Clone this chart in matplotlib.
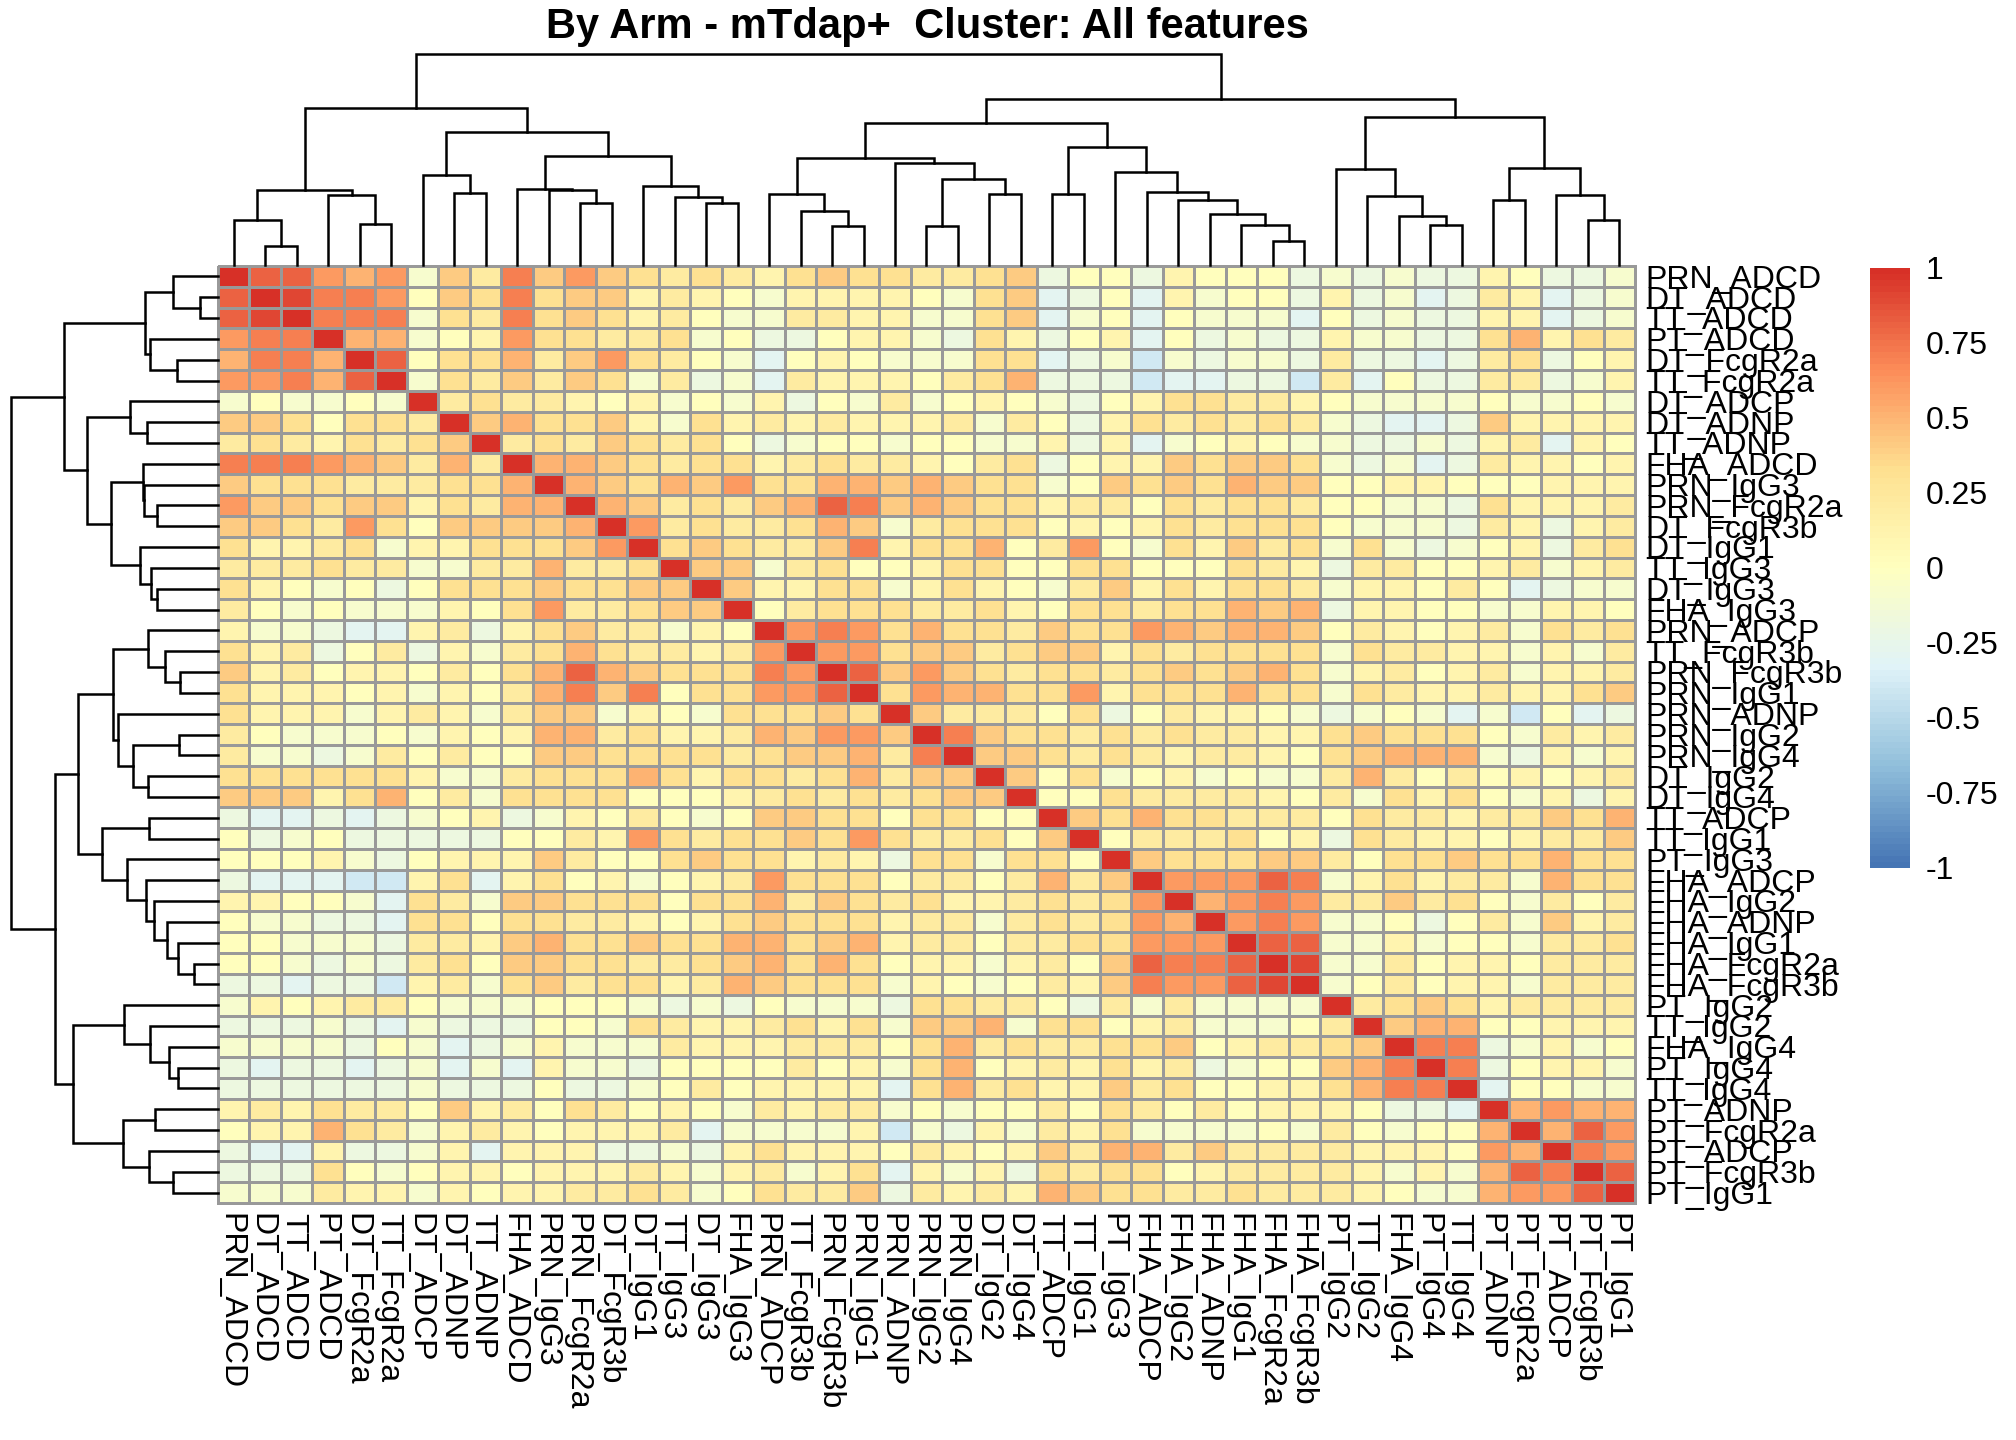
import numpy as np
import matplotlib
matplotlib.use("Agg")
import matplotlib.pyplot as plt
from matplotlib.colors import LinearSegmentedColormap, ListedColormap
from matplotlib import transforms

plt.rcParams['font.family'] = ['Liberation Sans', 'DejaVu Sans']

# features in the clustered order (rows and columns are the same)
features = ["PRN_ADCD", "DT_ADCD", "TT_ADCD", "PT_ADCD", "DT_FcgR2a", "TT_FcgR2a",
            "DT_ADCP", "DT_ADNP", "TT_ADNP", "FHA_ADCD", "PRN_IgG3", "PRN_FcgR2a",
            "DT_FcgR3b", "DT_IgG1", "TT_IgG3", "DT_IgG3", "FHA_IgG3", "PRN_ADCP",
            "TT_FcgR3b", "PRN_FcgR3b", "PRN_IgG1", "PRN_ADNP", "PRN_IgG2", "PRN_IgG4",
            "DT_IgG2", "DT_IgG4", "TT_ADCP", "TT_IgG1", "PT_IgG3", "FHA_ADCP",
            "FHA_IgG2", "FHA_ADNP", "FHA_IgG1", "FHA_FcgR2a", "FHA_FcgR3b", "PT_IgG2",
            "TT_IgG2", "FHA_IgG4", "PT_IgG4", "TT_IgG4", "PT_ADNP", "PT_FcgR2a",
            "PT_ADCP", "PT_FcgR3b", "PT_IgG1"]

# upper triangle of the correlation matrix (in tenths), each row starts at the diagonal
corr_upper = [
    "10 8 8 6 5 6 -1 4 2 7 4 6 4 3 2 3 2 1 3 4 3 3 2 2 3 4 -2 0 0 -2 1 0 0 0 -2 -1 -2 -1 -2 -2 1 0 -2 -2 -1",
    "10 9 7 7 6 0 4 3 7 3 4 4 1 2 1 0 -1 1 1 1 1 0 -1 3 4 -3 -2 0 -3 1 -1 0 0 -2 1 -2 -1 -3 -2 2 1 -3 -2 -1",
    "10 7 7 7 -1 3 2 7 3 4 3 1 2 0 -1 -1 2 2 1 1 -1 -1 3 4 -3 -1 0 -3 0 -1 -1 -1 -3 0 -2 -1 -2 -2 1 1 -3 -2 -1",
    "10 5 5 -1 0 1 6 3 3 2 2 3 -1 0 -2 -2 0 1 1 -1 -2 3 1 -2 0 1 -3 0 -2 -1 -2 -2 1 -1 -1 -2 -2 3 5 1 3 2",
    "10 8 0 3 3 5 2 4 6 3 2 0 -1 -3 0 1 0 -1 -1 -1 3 3 -3 -2 -1 -4 -1 -2 -1 -1 -2 2 -2 -2 -3 -2 2 3 -2 0 1",
    "10 -1 3 2 4 2 4 3 -1 2 -2 -1 -3 2 1 1 1 0 2 3 5 -2 -2 -2 -4 -3 -3 -2 -2 -4 2 -3 0 -2 -2 2 2 -2 -1 1",
    "10 2 3 2 2 1 0 1 -1 0 -1 1 -2 0 -1 2 -1 0 1 0 -1 -2 0 1 3 3 2 2 1 0 -1 -1 -1 -1 0 -1 -1 0 -1",
    "10 4 5 3 3 4 1 -1 3 1 2 1 2 1 1 1 2 -1 2 0 -2 1 3 2 3 2 3 2 -1 -2 -3 -3 -2 4 1 1 1 1",
    "10 2 3 2 4 3 2 3 0 -2 -1 0 0 -1 0 0 -1 -1 1 -2 1 -3 -1 0 1 0 -1 -1 -2 -2 -1 -2 1 2 -3 1 0",
    "10 5 5 4 3 2 3 3 1 2 3 2 2 1 0 2 3 -2 0 1 1 4 3 4 4 3 -1 -2 -1 -3 -2 2 1 1 0 1",
    "10 5 4 3 5 4 6 3 3 5 5 4 5 4 3 3 -1 0 4 3 4 3 5 4 4 0 0 1 1 0 0 0 1 1 1",
    "10 5 4 2 3 2 4 5 8 7 4 5 4 3 3 1 2 2 0 3 2 3 3 2 0 0 -1 -1 -2 3 1 1 1 2",
    "10 6 2 3 2 2 3 5 4 -1 2 3 3 3 0 1 0 1 3 2 3 3 3 0 -1 -1 -1 -2 2 1 -2 1 2",
    "10 3 4 3 2 2 4 7 1 3 3 5 0 2 6 0 -1 3 1 4 2 3 -1 3 -1 -2 -1 0 1 -2 2 3",
    "10 4 4 -1 2 3 0 0 1 3 3 0 0 3 3 0 0 0 3 2 1 -2 2 2 0 0 1 2 -1 1 2",
    "10 4 1 1 3 3 -1 1 3 1 0 -1 2 4 1 3 1 3 3 2 -1 1 1 0 2 0 -3 -2 -1 -1",
    "10 0 2 3 3 3 2 2 3 1 0 3 3 2 3 3 5 4 5 -2 1 1 0 0 -1 -1 1 1 0",
    "10 6 7 6 3 5 3 3 2 4 3 3 6 5 4 5 5 4 0 2 1 0 1 2 -1 3 2 3",
    "10 6 6 3 4 4 2 3 4 4 1 3 2 3 3 3 3 -1 3 2 2 1 1 -1 1 -1 2",
    "10 8 4 6 4 3 2 3 3 2 3 4 3 4 5 3 -1 1 2 0 1 2 -1 1 1 2",
    "10 3 6 5 5 3 3 6 1 3 3 3 5 3 3 -1 3 2 1 1 2 1 1 3 4",
    "10 4 2 2 2 0 3 -2 0 2 1 1 0 -1 -2 -1 0 -1 -3 -1 -4 0 -3 -2",
    "10 7 4 3 3 2 3 2 3 2 2 1 1 3 4 3 3 3 0 -1 2 1 2",
    "10 4 4 3 2 3 2 1 2 2 1 0 3 4 5 5 5 -1 -2 1 -1 1",
    "10 4 0 3 -1 0 1 -1 0 -1 -1 2 5 2 0 2 0 1 0 1 2",
    "10 0 0 3 2 2 2 2 1 0 2 -1 3 1 3 0 -1 1 -2 1",
    "10 4 3 5 3 3 2 2 2 0 3 2 2 1 2 2 4 3 5",
    "10 0 2 2 2 3 0 1 -2 3 2 1 1 0 1 2 2 4",
    "10 4 3 3 3 4 4 2 0 3 3 4 3 3 5 3 3",
    "10 6 6 6 8 7 -1 1 3 1 2 2 -1 5 3 3",
    "10 5 6 7 6 2 2 4 2 3 0 -1 2 0 2",
    "10 6 7 6 -1 -1 0 -2 0 2 -1 4 1 2",
    "10 8 8 -1 -1 1 -1 0 0 -1 2 2 3",
    "10 9 -1 -1 2 0 1 1 0 2 2 2",
    "10 -1 0 2 0 1 1 -1 2 2 2",
    "10 2 3 4 3 1 2 2 2 2",
    "10 4 5 5 0 0 1 1 1",
    "10 7 7 -2 -1 1 -1 0",
    "10 7 -2 0 1 1 -1",
    "10 -3 0 0 -1 -1",
    "10 5 6 5 5",
    "10 5 8 6",
    "10 7 6",
    "10 8",
    "10",
]

# hierarchical clustering: (left, right, height); ints refer to earlier merges
merges = [
    ("DT_ADCD", "TT_ADCD", 0.55), ("PRN_ADCD", 0, 1.35), ("DT_FcgR2a", "TT_FcgR2a", 1.23),
    ("PT_ADCD", 2, 2.07), (1, 3, 2.22), ("DT_ADNP", "TT_ADNP", 2.15),
    ("DT_ADCP", 5, 2.67), ("PRN_FcgR2a", "DT_FcgR3b", 1.85), ("PRN_IgG3", 7, 2.23),
    ("FHA_ADCD", 8, 2.27), ("DT_IgG3", "FHA_IgG3", 1.83), ("TT_IgG3", 10, 2.03),
    ("DT_IgG1", 11, 2.35), (9, 12, 3.23), (6, 13, 3.95),
    (4, 14, 4.67), ("PRN_FcgR3b", "PRN_IgG1", 1.15), ("TT_FcgR3b", 16, 1.60),
    ("PRN_ADCP", 17, 2.12), ("PRN_IgG2", "PRN_IgG4", 1.17), ("DT_IgG2", "DT_IgG4", 2.12),
    (19, 20, 2.57), ("PRN_ADNP", 21, 3.03), (18, 22, 3.18),
    ("TT_ADCP", "TT_IgG1", 2.10), ("FHA_FcgR2a", "FHA_FcgR3b", 0.72), ("FHA_IgG1", 25, 1.20),
    ("FHA_ADNP", 26, 1.53), ("FHA_IgG2", 27, 1.94), ("FHA_ADCP", 28, 2.18),
    ("PT_IgG3", 29, 2.75), (24, 30, 3.51), (23, 31, 4.22),
    ("PT_IgG4", "TT_IgG4", 1.20), ("FHA_IgG4", 33, 1.47), ("TT_IgG2", 34, 2.05),
    ("PT_IgG2", 35, 2.85), ("PT_FcgR3b", "PT_IgG1", 1.35), ("PT_ADCP", 37, 2.08),
    ("PT_ADNP", "PT_FcgR2a", 1.92), (39, 38, 2.88), (36, 40, 4.40),
    (32, 41, 4.92), (15, 42, 6.27),
]

legend_ticks = [1, 0.75, 0.5, 0.25, 0, -0.25, -0.5, -0.75, -1]
legend_labels = ["1", "0.75", "0.5", "0.25", "0", "-0.25", "-0.5", "-0.75", "-1"]
title = "By Arm - mTdap+  Cluster: All features"

n = len(features)
corr = np.zeros((n, n))
for i, row in enumerate(corr_upper):
    vals = np.array([int(v) for v in row.split()]) / 10
    corr[i, i:] = vals
    corr[i:, i] = vals

ramp = ["#4575B4", "#91BFDB", "#E0F3F8", "#FFFFBF", "#FEE090", "#FC8D59", "#D73027"]
cmap = ListedColormap(LinearSegmentedColormap.from_list("rdylbu", ramp)(np.linspace(0, 1, 100)))

W, H = 2016, 1440
fig = plt.figure(figsize=(W / 100, H / 100), dpi=100)


def box(x0, y0, x1, y1):
    # pixel box (top-left origin) -> figure fraction
    return [x0 / W, 1 - y1 / H, (x1 - x0) / W, (y1 - y0) / H]


fs = 23

# heatmap
ax = fig.add_axes(box(218, 266, 1635, 1203))
mesh = ax.pcolormesh(np.arange(n + 1), np.arange(n + 1), corr, cmap=cmap, vmin=-1, vmax=1,
                     edgecolors="#999999", linewidth=1.9)
mesh.set_clip_on(False)
ax.set_xlim(0, n)
ax.set_ylim(n, 0)
ax.axis("off")

row_tr = transforms.offset_copy(ax.get_yaxis_transform(), fig=fig, x=7.6, y=-8.2, units="points")
col_tr = transforms.offset_copy(ax.get_xaxis_transform(), fig=fig, x=-8.2, y=-7.0, units="points")
for i, name in enumerate(features):
    ax.text(1, i + 0.5, name, transform=row_tr, ha="left", va="baseline", fontsize=fs)
    ax.text(i + 0.5, 0, name, transform=col_tr, rotation=-90, rotation_mode="anchor",
            ha="left", va="baseline", fontsize=fs)


def tree_lines(merges, order):
    pos = {name: i + 0.5 for i, name in enumerate(order)}
    npos, nh, lines = [], [], []

    def get(c):
        if isinstance(c, str):
            return pos[c], 0.0
        return npos[c], nh[c]

    for a, b, h in merges:
        xa, ha = get(a)
        xb, hb = get(b)
        lines.append(([xa, xa, xb, xb], [ha, h, h, hb]))
        npos.append((xa + xb) / 2)
        nh.append(h)
    return lines


lines = tree_lines(merges, features)
top = max(m[2] for m in merges)

# column dendrogram
cd = fig.add_axes(box(218, 54, 1635, 265))
for xs, hs in lines:
    cd.plot(xs, hs, color="black", lw=1.8, solid_joinstyle="miter", clip_on=False)
cd.set_xlim(0, n)
cd.set_ylim(0, top)
cd.axis("off")

# row dendrogram
rd = fig.add_axes(box(10.7, 266, 218, 1203))
for xs, hs in lines:
    rd.plot(hs, xs, color="black", lw=1.8, solid_joinstyle="miter", clip_on=False)
rd.set_xlim(top, 0)
rd.set_ylim(n, 0)
rd.axis("off")

# legend bar
cax = fig.add_axes(box(1870, 268, 1910, 868))
edges = np.linspace(-1, 1, 101)
cax.pcolormesh([0, 1], edges, ((edges[:-1] + edges[1:]) / 2)[:, None], cmap=cmap, vmin=-1, vmax=1)
cax.set_xlim(0, 1)
cax.set_ylim(-1, 1)
cax.axis("off")
lab_tr = transforms.offset_copy(cax.get_yaxis_transform(), fig=fig, x=11.0, y=-8.2, units="points")
for v, lab in zip(legend_ticks, legend_labels):
    cax.text(1, v, lab, transform=lab_tr, ha="left", va="baseline", fontsize=fs)

fig.text(927 / W, 1 - 38 / H, title, ha="center", va="baseline", fontsize=30, fontweight="bold")

fig.savefig("out.png", dpi=100)
